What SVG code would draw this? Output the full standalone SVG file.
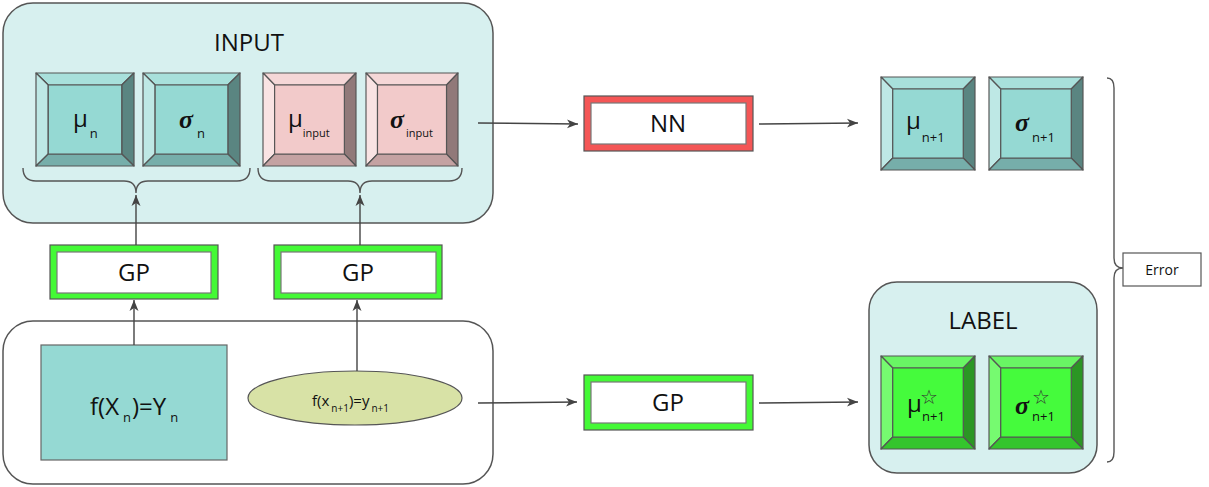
<svg xmlns="http://www.w3.org/2000/svg" xmlns:xlink="http://www.w3.org/1999/xlink" width="1209" height="487" viewBox="0 0 1209 487">
<style>
text{font-family:"Open Sans","Noto Sans","DejaVu Sans",sans-serif;fill:#111}
.cont{fill:#d7f0ef;stroke:#555;stroke-width:1.5}
.contw{fill:#fff;stroke:#555;stroke-width:1.5}
.edge{fill:none;stroke:#444;stroke-width:1.4}
.brace{fill:none;stroke:#555;stroke-width:1.4}
.out{stroke:#555;stroke-width:1.2}
.inn{fill:#fff;stroke:#777;stroke-width:1.2}
.sig{font-family:"Liberation Serif","DejaVu Serif",serif;font-weight:bold;font-style:italic}
.bv{stroke:#555;stroke-width:1.2;stroke-linejoin:round}
.lbl{font-size:24px}
.star{font-family:"DejaVu Sans",sans-serif;font-size:20px;fill:#333}
</style>
<defs>
<marker id="arr" markerUnits="userSpaceOnUse" markerWidth="12" markerHeight="10" refX="11" refY="5" orient="auto">
<path d="M0,0.5 L11,5 L0,9.5 L3,5 Z" fill="#444"/>
</marker>
<symbol id="bTeal" viewBox="0 0 96 93" preserveAspectRatio="none" overflow="visible">
<polygon class="bv" points="0,0 96,0 84,12 12,12" fill="#a8e0db"/>
<polygon class="bv" points="0,0 12,12 12,81 0,93" fill="#bee8e5"/>
<polygon class="bv" points="96,0 96,93 84,81 84,12" fill="#5a8581"/>
<polygon class="bv" points="0,93 12,81 84,81 96,93" fill="#76aeaa"/>
<rect class="bv" x="12" y="12" width="72" height="69" fill="#95d9d3"/>
</symbol>
<symbol id="bPink" viewBox="0 0 96 93" preserveAspectRatio="none" overflow="visible">
<polygon class="bv" points="0,0 96,0 84,12 12,12" fill="#f5d7d7"/>
<polygon class="bv" points="0,0 12,12 12,81 0,93" fill="#f9e3e3"/>
<polygon class="bv" points="96,0 96,93 84,81 84,12" fill="#917979"/>
<polygon class="bv" points="0,93 12,81 84,81 96,93" fill="#c4a2a2"/>
<rect class="bv" x="12" y="12" width="72" height="69" fill="#f2caca"/>
</symbol>
<symbol id="bGreen" viewBox="0 0 96 93" preserveAspectRatio="none" overflow="visible">
<polygon class="bv" points="0,0 96,0 84,12 12,12" fill="#69f564"/>
<polygon class="bv" points="0,0 12,12 12,81 0,93" fill="#76fa70"/>
<polygon class="bv" points="96,0 96,93 84,81 84,12" fill="#2b9624"/>
<polygon class="bv" points="0,93 12,81 84,81 96,93" fill="#34c52d"/>
<rect class="bv" x="12" y="12" width="72" height="69" fill="#45fb3c"/>
</symbol>
</defs>

<g id="input-container">
<rect class="cont" x="3" y="3" width="490" height="220" rx="30"/>
<text x="249" y="51" text-anchor="middle" font-size="24">INPUT</text>
</g>
<g id="mu-n">
<use xlink:href="#bTeal" x="36" y="73" width="98" height="93"/>
<text x="73" y="127" font-size="24">μ<tspan dx="2" dy="11" font-size="13">n</tspan></text>
</g>
<g id="sigma-n">
<use xlink:href="#bTeal" x="143" y="73" width="97" height="93"/>
<text x="179" y="128"><tspan class="sig" font-size="26">σ</tspan><tspan dx="4" dy="10" font-size="13">n</tspan></text>
</g>
<g id="mu-input">
<use xlink:href="#bPink" x="263" y="73" width="93" height="93"/>
<text x="288" y="127" font-size="24">μ<tspan dx="0" dy="10" font-size="11">input</tspan></text>
</g>
<g id="sigma-input">
<use xlink:href="#bPink" x="366" y="73" width="92" height="93"/>
<text x="390" y="128"><tspan class="sig" font-size="26">σ</tspan><tspan dx="2" dy="9" font-size="11">input</tspan></text>
</g>

<g id="gp1">
<rect class="out" x="50" y="245" width="168" height="54" fill="#44f936"/>
<rect class="inn" x="57" y="252" width="154" height="41"/>
<text class="lbl" x="134" y="281" text-anchor="middle">GP</text>
</g>
<g id="gp2">
<rect class="out" x="274" y="245" width="168" height="54" fill="#44f936"/>
<rect class="inn" x="281" y="252" width="155" height="41"/>
<text class="lbl" x="358" y="281" text-anchor="middle">GP</text>
</g>

<g id="data-container">
<rect class="contw" x="3" y="321" width="490" height="163" rx="30"/>
</g>
<g id="fXn">
<rect x="41" y="345" width="186" height="115" fill="#95d9d3" stroke="#666" stroke-width="1.2"/>
<text x="90" y="415" font-size="24">f(X<tspan dx="4" dy="7" font-size="13">n</tspan><tspan dx="1" dy="-7">)=Y</tspan><tspan dx="4" dy="7" font-size="13">n</tspan></text>
</g>
<g id="fxn1">
<ellipse cx="355" cy="398" rx="107" ry="27" fill="#d8e2a6" stroke="#555" stroke-width="1.2"/>
<text x="312" y="406" font-size="15">f(x<tspan dx="2" dy="6" font-size="10">n+1</tspan><tspan dy="-6">)=y</tspan><tspan dx="2" dy="6" font-size="10">n+1</tspan></text>
</g>

<g id="nn">
<rect class="out" x="584" y="96" width="169" height="55" fill="#f45656"/>
<rect class="inn" x="591" y="103" width="155" height="41"/>
<text class="lbl" x="668" y="132" text-anchor="middle">NN</text>
</g>
<g id="gp3">
<rect class="out" x="584" y="375" width="169" height="55" fill="#44f936"/>
<rect class="inn" x="591" y="382" width="155" height="41"/>
<text class="lbl" x="668" y="411" text-anchor="middle">GP</text>
</g>

<g id="mu-n1">
<use xlink:href="#bTeal" x="881" y="77" width="94" height="93"/>
<text x="906" y="129" font-size="24">μ<tspan dx="1" dy="13" font-size="13">n+1</tspan></text>
</g>
<g id="sigma-n1">
<use xlink:href="#bTeal" x="989" y="77" width="94" height="93"/>
<text x="1015" y="131"><tspan class="sig" font-size="26">σ</tspan><tspan dx="3" dy="11" font-size="13">n+1</tspan></text>
</g>

<g id="label-container">
<rect class="cont" x="869" y="282" width="228" height="191" rx="28"/>
<text x="983" y="329" text-anchor="middle" font-size="24">LABEL</text>
</g>
<g id="mu-star">
<use xlink:href="#bGreen" x="881" y="356" width="94" height="93"/>
<text x="907" y="412" font-size="24">μ<tspan class="star" x="920" y="404">☆</tspan><tspan x="922" y="421" font-size="13">n+1</tspan></text>
</g>
<g id="sigma-star">
<use xlink:href="#bGreen" x="989" y="356" width="94" height="93"/>
<text x="1015" y="414"><tspan class="sig" font-size="26">σ</tspan><tspan class="star" x="1032" y="404">☆</tspan><tspan x="1032" y="421" font-size="13">n+1</tspan></text>
</g>

<g id="error">
<rect x="1123" y="253" width="78" height="33" fill="#fff" stroke="#555" stroke-width="1.2"/>
<text x="1162" y="275" text-anchor="middle" font-size="14">Error</text>
</g>

<g id="connectors">
<path class="brace" d="M23,168 Q23,181 36,181 L124,181 Q136,181 136,193 Q136,181 148,181 L237,181 Q250,181 250,168"/>
<path class="brace" d="M258,168 Q258,181 271,181 L348,181 Q360,181 360,193 Q360,181 372,181 L449,181 Q462,181 462,168"/>
<path class="brace" d="M1107,78 Q1114,78 1114,88 L1114,258 Q1114,268 1123,268 Q1114,268 1114,278 L1114,452 Q1114,462 1107,462"/>
<line class="edge" x1="136" y1="245" x2="136" y2="195" marker-end="url(#arr)"/>
<line class="edge" x1="360" y1="245" x2="360" y2="195" marker-end="url(#arr)"/>
<line class="edge" x1="134" y1="345" x2="134" y2="300" marker-end="url(#arr)"/>
<line class="edge" x1="357" y1="371" x2="357" y2="300" marker-end="url(#arr)"/>
<line class="edge" x1="478" y1="123" x2="578" y2="124" marker-end="url(#arr)"/>
<line class="edge" x1="759" y1="124" x2="858" y2="123" marker-end="url(#arr)"/>
<line class="edge" x1="478" y1="403" x2="577" y2="402" marker-end="url(#arr)"/>
<line class="edge" x1="759" y1="403" x2="858" y2="402" marker-end="url(#arr)"/>
</g>
</svg>
